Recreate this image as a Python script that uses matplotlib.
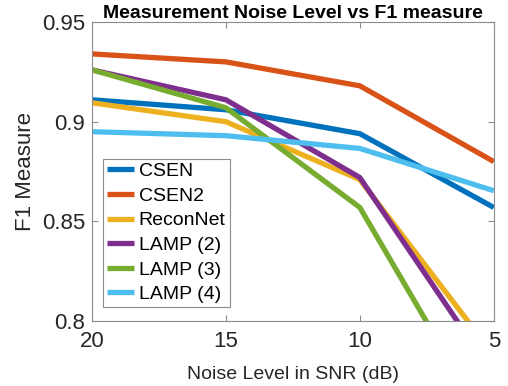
import matplotlib
matplotlib.use("Agg")
import matplotlib.pyplot as plt

plt.rcParams['font.family'] = ['Liberation Sans', 'DejaVu Sans']

# SNR levels (dB) and F1 scores
snr = [20, 15, 10, 5]
csen = [0.911, 0.906, 0.894, 0.857]
csen2 = [0.934, 0.930, 0.918, 0.880]
reconnet = [0.9095, 0.900, 0.871, 0.783]
lamp2 = [0.926, 0.911, 0.872, 0.773]
lamp3 = [0.926, 0.907, 0.857, 0.742]
lamp4 = [0.895, 0.893, 0.8866, 0.8654]

series = [
    ("CSEN", csen, "#0072BD"),
    ("CSEN2", csen2, "#D95319"),
    ("ReconNet", reconnet, "#EDB120"),
    ("LAMP (2)", lamp2, "#7E2F8E"),
    ("LAMP (3)", lamp3, "#77AC30"),
    ("LAMP (4)", lamp4, "#4DBEEE"),
]

fig = plt.figure(figsize=(5.08, 3.86), dpi=100)
ax = fig.add_axes([0.181, 0.168, 0.791, 0.775])

for name, vals, col in series:
    ax.plot(snr, vals, color=col, lw=3.8, label=name, solid_capstyle='butt')

ax.set_xlim(20, 5)
ax.set_ylim(0.8, 0.95)
ax.set_xticks([20, 15, 10, 5])
ax.set_xticklabels(["20", "15", "10", "5"])
ax.set_yticks([0.8, 0.85, 0.9, 0.95])
ax.set_yticklabels(["0.8", "0.85", "0.9", "0.95"])
ax.tick_params(direction='in', top=True, right=True, labelsize=16,
               labelcolor='#262626', color='#8c8c8c', length=4)
ax.tick_params(axis='y', pad=5)
ax.tick_params(axis='x', pad=7)
for sp in ax.spines.values():
    sp.set_color('#8c8c8c')
    sp.set_linewidth(0.8)

ax.set_xlabel("Noise Level in SNR (dB)", fontsize=14, color='#262626', labelpad=10)
ax.set_ylabel("F1 Measure", fontsize=16, color='#262626', labelpad=4)
ax.set_title("Measurement Noise Level vs F1 measure", fontsize=14,
             fontweight='bold', pad=3)

leg = ax.legend(loc='lower left', bbox_to_anchor=(0.027, 0.047), fontsize=14,
                handlelength=1.4, handletextpad=0.25, labelspacing=0.36,
                borderpad=0.2, borderaxespad=0, fancybox=False, framealpha=1)
leg.get_frame().set_edgecolor('#8c8c8c')
leg.get_frame().set_linewidth(0.8)

fig.savefig("out.png", dpi=100)
